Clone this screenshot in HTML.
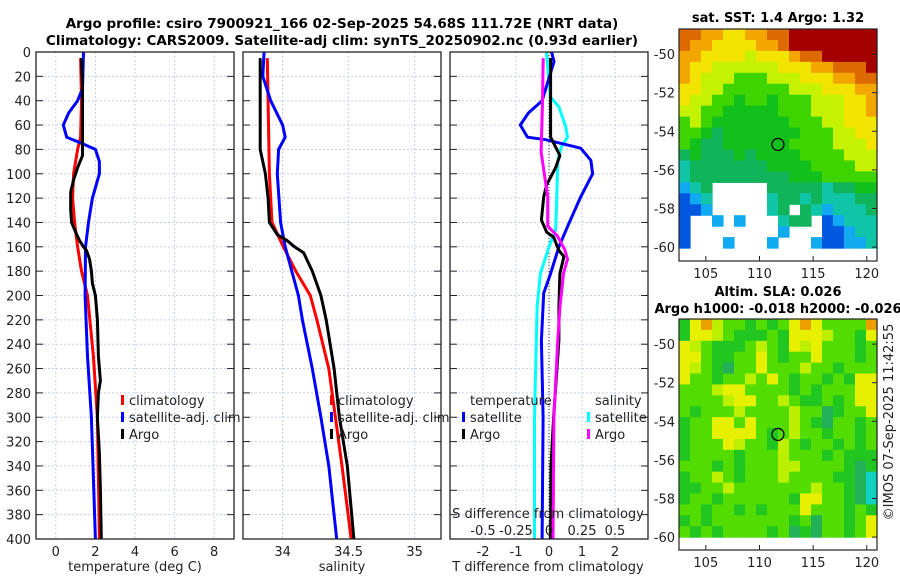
<!DOCTYPE html>
<html><head><meta charset="utf-8">
<style>
html,body{margin:0;padding:0;background:#fff;}
svg{display:block;font-family:"DejaVu Sans","Liberation Sans",sans-serif;}
</style></head>
<body>
<svg id="fig" width="900" height="580" viewBox="0 0 900 580" xmlns="http://www.w3.org/2000/svg">
<text x="342" y="28" font-size="13.5" font-weight="bold" text-anchor="middle">Argo profile: csiro 7900921_166 02-Sep-2025 54.68S 111.72E (NRT data)</text>
<text x="342" y="45" font-size="13.5" font-weight="bold" text-anchor="middle">Climatology: CARS2009. Satellite-adj clim: synTS_20250902.nc (0.93d earlier)</text>
<text x="778" y="22" font-size="13" font-weight="bold" text-anchor="middle">sat. SST: 1.4 Argo: 1.32</text>
<text x="778" y="296" font-size="13" font-weight="bold" text-anchor="middle">Altim. SLA: 0.026</text>
<text x="778" y="313" font-size="13" font-weight="bold" text-anchor="middle">Argo h1000: -0.018 h2000: -0.026</text>
<text transform="translate(893,422) rotate(-90)" font-size="13" text-anchor="middle" fill="#222">©IMOS 07-Sep-2025 11:42:55</text>
</svg>
<script>
// ---------- data ----------
const depthTicks = [0,20,40,60,80,100,120,140,160,180,200,220,240,260,280,300,320,340,360,380,400];
const tempTicks = [0,2,4,6,8];
const salTicks = [34,34.5,35];
const salTickLabels = ["34","34.5","35"];
const tdiffTicks = [-2,-1,0,1,2];
const sdiffTicks = [-0.5,-0.25,0,0.25,0.5];
const sdiffTickLabels = ["-0.5","-0.25","0","0.25","0.5"];

const tClimDepth = [5,40,70,80,100,120,140,160,180,200,250,300,350,400];
const tClimVal   = [1.25,1.3,1.25,1.1,0.9,0.85,0.95,1.1,1.3,1.6,1.9,2.1,2.15,2.2];
const tSatDepth = [0,30,40,50,60,70,75,80,90,100,120,140,160,200,250,300,350,400];
const tSatVal   = [1.4,1.35,1.1,0.65,0.38,0.55,1.3,2.0,2.2,2.2,1.85,1.65,1.5,1.48,1.6,1.8,1.9,2.0];
const tArgoDepth = [5,30,60,85,95,105,115,130,140,148,155,160,163,170,180,190,200,220,250,270,280,300,330,360,400];
const tArgoVal   = [1.3,1.35,1.35,1.35,1.1,0.9,0.75,0.75,0.8,1.0,1.2,1.4,1.55,1.7,1.8,1.85,2.0,2.1,2.15,2.25,2.15,2.1,2.2,2.25,2.3];

const sClimDepth = [5,100,140,160,180,200,220,260,300,340,400];
const sClimVal   = [33.884,33.90,33.92,34.005,34.10,34.21,34.26,34.35,34.40,34.45,34.52];
const sSatDepth = [0,20,40,60,70,80,100,140,160,200,220,260,300,340,400];
const sSatVal   = [33.86,33.85,33.91,34.0,34.02,33.97,33.96,33.985,34.02,34.12,34.15,34.225,34.29,34.35,34.41];
const sArgoDepth = [5,80,100,120,140,150,155,160,165,180,200,220,260,300,340,400];
const sArgoVal   = [33.83,33.83,33.87,33.89,33.90,33.96,34.035,34.09,34.16,34.225,34.29,34.33,34.39,34.43,34.49,34.54];

const dTSatDepth = [0,8,40,50,60,70,72,79,89,100,119,141,160,182,198,237,300,400];
const dTSatVal   = [0.08,0.15,-0.21,-0.62,-0.87,-0.65,-0.1,0.96,1.27,1.32,0.96,0.6,0.3,0.05,-0.16,-0.23,-0.18,-0.21];
const dTArgoDepth = [5,70,78,85,95,109,119,138,148,152,163,168,182,209,237,300,340,400];
const dTArgoVal   = [0.05,0.05,0.2,0.33,0.2,-0.07,-0.16,-0.23,-0.07,0.14,0.3,0.45,0.33,0.3,0.3,0.14,0.06,0.05];
const dSSatDepth = [0,37,45,61,70,78,89,127,146,160,182,209,300,400];
const dSSatVal   = [-0.02,0.01,0.075,0.126,0.14,0.093,0.067,0.057,0.05,0,-0.065,-0.09,-0.11,-0.11];
const dSArgoDepth = [5,45,82,106,119,143,151,162,170,182,209,236,300,400];
const dSArgoVal   = [-0.044,-0.05,-0.06,-0.027,-0.01,-0.01,0.062,0.118,0.14,0.11,0.083,0.067,0.037,0.03];

const latTicks = [-50,-52,-54,-56,-58,-60];
const lonTicks = [105,110,115,120];
const argoLon = 111.72, argoLat = -54.68;
const sstGrid = [
"OOooYYooOORRRRRRRR","OooYYYYooORRRRRRRR","ooYYYYyYYYoOORRRRR","oYYyyyyyyYYYooOOOR",
"oYyyyGGGyyyYYYooOO","YYyyGGGGGGyyyYYYoo","YyyGGgGGgGGGyyyYYo","yyGGgggggGGGyyyYYo",
"GyGgggggggGGGyyYYY","GGgTgggggggGGGyyYY","GgTTggggggGGGGyyyY","TgTTTgTggggGGGGyyy",
"tTTTTTTTggggGGGGyy","tTTTTTTTTTgggGGGGG","CtTWWWWWTTTTTtTTgg","BCtWWWWWtTTtTtttTT",
"BBCWWWWWtTWTtCtttT","BWWCWCWWWtTTWBCttt","BWWWWWWWWCWWWBBCtt","BWWWCWWWCWWWCBBCCt"];
const slaGrid = [
"gYOyGGgGgGYOYGGGGO","gYYyGgggGgYYYyGGgY","YyGgggGyGgYyYGGGgG","YYGggGGYGgGGYGGGgG",
"YyGgTGGYGGGyGGgGGG","YGGgGGyGYGgGGgGgYY","GGGyYYGGGGgGgGGGYY","GGGGyYYGGyGggGgGYY",
"GgGGGyGGGGyGGTgGGY","gGGYYGYGGGyGgTGGgG","gGGYYYYGgGyGGgGGgG","gGGGYyGGgyGgGGgGgG",
"gGGGGgGGGyGGGgGggg","GGGgGgGGGyyGGGGgTg","gGGyGgGGGyGGGGggTC","ggGGyGGGGGGGyGGgTC",
"gGGgGGGGGGgYYGGgTC","GGgGGgGgGGGYGGGgGg","gGgGGGGGGGgGTGGgGY","GgGgGGGGgGTgTGGgGY"];

// ---------- drawing ----------
const NS = "http://www.w3.org/2000/svg";
const svg = document.getElementById('fig');
function mk(tag, attrs, parent){const e=document.createElementNS(NS,tag);for(const k in attrs)e.setAttribute(k,attrs[k]);(parent||svg).appendChild(e);return e;}

const PT=52, PB=539;
const yD = d => PT + (d/400)*(PB-PT);
function lin(d0,d1,p0,p1){return v => p0 + (v-d0)/(d1-d0)*(p1-p0);}
const panels = [
 {name:'temperature-panel', x0:36, x1:234, sx: lin(-1,9,36,234)},
 {name:'salinity-panel', x0:243, x1:441, sx: lin(33.7,35.2,243,441)},
 {name:'difference-panel', x0:450, x1:648, sx: lin(-3,3,450,648)}
];
const sdx = lin(-0.75,0.75,450,648);

function frame(p){
  const g = mk('g',{});
  
  
  depthTicks.forEach(d=>{
    const l = mk('line',{x1:p.x0,x2:p.x1,y1:yD(d),y2:yD(d),stroke:'#c6cdef','stroke-width':1,'stroke-dasharray':'2,2'},g);
    
    
    mk('line',{x1:p.x0,x2:p.x0+7,y1:yD(d),y2:yD(d),stroke:'#222','stroke-width':1},g);
    mk('line',{x1:p.x1-7,x2:p.x1,y1:yD(d),y2:yD(d),stroke:'#222','stroke-width':1},g);
  });
  return g;
}
function vgrid(g,x){
  const l = mk('line',{x1:x,x2:x,y1:PT,y2:PB,stroke:'#c6cdef','stroke-width':1,'stroke-dasharray':'2,2'},g);
  
  
}
function border(g,p){
  const r = mk('rect',{x:p.x0,y:PT,width:p.x1-p.x0,height:PB-PT,fill:'none',stroke:'#222','stroke-width':1.3},g);
  
  
}
function line(g,xs,ds,fx,color,name,w){
  const pts = xs.map((v,i)=>fx(v).toFixed(1)+','+yD(ds[i]).toFixed(1)).join(' ');
  const pl = mk('polyline',{points:pts,fill:'none',stroke:color,'stroke-width':w||3,'stroke-linejoin':'round'},g);
  
  
}
function txt(g,x,y,s,opts){
  const t = mk('text',Object.assign({x:x,y:y,'font-size':13,fill:'#222'},opts||{}),g);
  t.textContent = s; return t;
}
function legendEntry(g,x,y,color,label){
  const r = mk('rect',{x:x,y:y-10,width:3,height:10,fill:color},g);
  
  
  const t = txt(g,x+8,y,label);
  
  
}

// Panel 1
let p = panels[0]; let g = frame(p);
tempTicks.forEach(v=>{vgrid(g,p.sx(v));
  const t=txt(g,p.sx(v),556,String(v),{'text-anchor':'middle'});
  
  });
depthTicks.forEach(d=>{const t=txt(g,31,yD(d)+5,String(d),{'text-anchor':'end'});
  
  });
line(g,tClimVal,tClimDepth,p.sx,'#ff0000','temperature-climatology-line');
line(g,tSatVal,tSatDepth,p.sx,'#0000ff','temperature-satellite-line');
line(g,tArgoVal,tArgoDepth,p.sx,'#000000','temperature-argo-line');
border(g,p);
let t0 = txt(g,135,571,'temperature (deg C)',{'text-anchor':'middle'});


legendEntry(g,121,405,'#ff0000','climatology');
legendEntry(g,121,422,'#0000ff','satellite-adj. clim');
legendEntry(g,121,439,'#000000','Argo');

// Panel 2
p = panels[1]; g = frame(p);
salTicks.forEach((v,i)=>{vgrid(g,p.sx(v));
  const t=txt(g,p.sx(v),556,salTickLabels[i],{'text-anchor':'middle'});
  
  });
line(g,sClimVal,sClimDepth,p.sx,'#ff0000','salinity-climatology-line');
line(g,sSatVal,sSatDepth,p.sx,'#0000ff','salinity-satellite-line');
line(g,sArgoVal,sArgoDepth,p.sx,'#000000','salinity-argo-line');
border(g,p);
t0 = txt(g,342,571,'salinity',{'text-anchor':'middle'});


legendEntry(g,330,405,'#ff0000','climatology');
legendEntry(g,330,422,'#0000ff','satellite-adj. clim');
legendEntry(g,330,439,'#000000','Argo');

// Panel 3
p = panels[2]; g = frame(p);
tdiffTicks.forEach(v=>{vgrid(g,p.sx(v));
  const t=txt(g,p.sx(v),556,String(v),{'text-anchor':'middle'});
  
  });
const zl = mk('line',{x1:p.sx(0),x2:p.sx(0),y1:PT,y2:PB,stroke:'#333','stroke-width':1,'stroke-dasharray':'1,2'},g);


line(g,dSSatVal,dSSatDepth,sdx,'#00ffff','salinity-diff-satellite-line');
line(g,dTSatVal,dTSatDepth,p.sx,'#0000ff','temperature-diff-satellite-line');
line(g,dTArgoVal,dTArgoDepth,p.sx,'#000000','temperature-diff-argo-line');
line(g,dSArgoVal,dSArgoDepth,sdx,'#ff00ff','salinity-diff-argo-line');
border(g,p);
t0 = txt(g,548,571,'T difference from climatology',{'text-anchor':'middle'});


t0 = txt(g,548,518,'S difference from climatology',{'text-anchor':'middle'});


sdiffTicks.forEach((v,i)=>{const t=txt(g,sdx(v),535,sdiffTickLabels[i],{'text-anchor':'middle'});
  
  });
t0 = txt(g,470,405,'temperature');  
t0 = txt(g,595,405,'salinity');  
legendEntry(g,462,422,'#0000ff','satellite');
legendEntry(g,462,439,'#000000','Argo');
legendEntry(g,587,422,'#00ffff','satellite');
legendEntry(g,587,439,'#ff00ff','Argo');

// Maps
const sstColors = {R:'#a50000',O:'#dc6a00',o:'#f3a600',Y:'#f2e400',y:'#c4f200',G:'#3ed400',g:'#12c01c',T:'#10b45a',t:'#10c4a8',C:'#10aaf0',B:'#0058e0',W:'#ffffff'};
const slaColors = {O:'#eca000',Y:'#e6f000',y:'#bcf000',G:'#52dc00',g:'#22c620',T:'#22b058',C:'#10d0c0'};
function drawMap(name,grid,colors,top,latTop,dataBottomLat,axisBottom){
  const x0=679,x1=877;
  const lx = lin(102.5,120.95,x0,x1);
  const yLat = v => top + (latTop - v)*19.3;
  const mg = mk('g',{});
  
  
  const rows=grid.length, cols=grid[0].length;
  const yb = yLat(dataBottomLat);
  const ch=(yb-top)/rows, cw=(x1-x0)/cols;
  grid.forEach((row,ri)=>{for(let ci=0;ci<cols;ci++){
    const c = row[ci]; if(c==='W') continue;
    const r = mk('rect',{x:(x0+ci*cw).toFixed(2),y:(top+ri*ch).toFixed(2),width:(cw+0.6).toFixed(2),height:(ch+0.6).toFixed(2),fill:colors[c]},mg);
    
    
  }});
  const b = mk('rect',{x:x0,y:top,width:x1-x0,height:axisBottom-top,fill:'none',stroke:'#222','stroke-width':1.2},mg);
  
  
  latTicks.forEach(v=>{const y=yLat(v);
    mk('line',{x1:x1-5,x2:x1,y1:y,y2:y,stroke:'#222'},mg);
    const t=txt(mg,675,y+5,String(v),{'text-anchor':'end'});
    
    });
  lonTicks.forEach(v=>{const x=lx(v);
    mk('line',{x1:x,x2:x,y1:axisBottom-5,y2:axisBottom,stroke:'#222'},mg);
    const t=txt(mg,x,axisBottom+17,String(v),{'text-anchor':'middle'});
    
    });
  const c = mk('circle',{cx:lx(argoLon),cy:yLat(argoLat),r:6,fill:'none',stroke:'#000','stroke-width':1.3},mg);
  
  
}
drawMap('sst-map',sstGrid,sstColors,29,-48.7,-60.05,261);
drawMap('sla-map',slaGrid,slaColors,319,-48.7,-60.0,550);
</script>
</body></html>
